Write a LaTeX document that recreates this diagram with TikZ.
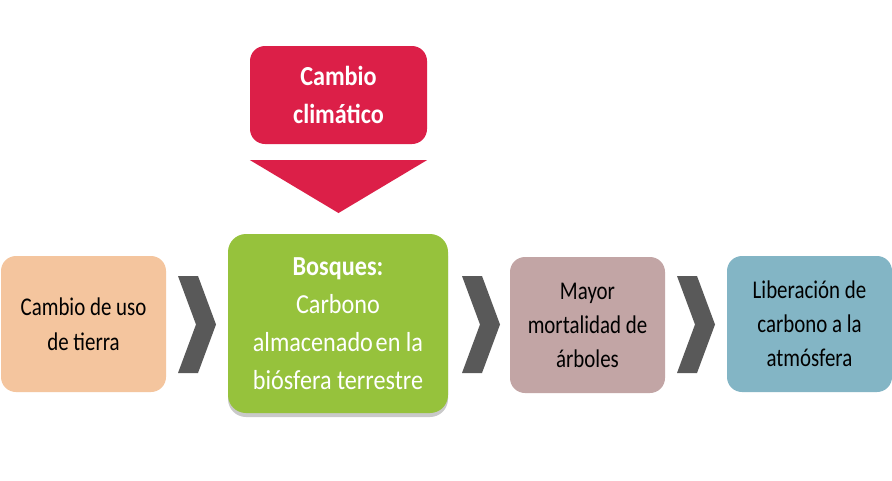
\documentclass[tikz,border=0pt]{standalone}
\usepackage{fontspec}
\setmainfont[FakeStretch=0.82]{Carlito}
\newfontfamily\bigf[FakeStretch=0.88]{Carlito}
\usetikzlibrary{shadows}
\definecolor{cred}{HTML}{DC1F48}
\definecolor{cgreen}{HTML}{96C23C}
\definecolor{corange}{HTML}{F4C59E}
\definecolor{cmauve}{HTML}{C2A5A5}
\definecolor{cblue}{HTML}{83B5C5}
\definecolor{cchev}{HTML}{595959}
\tikzset{
  box/.style={rounded corners=15pt, align=center, inner sep=0pt,
    font=\fontsize{25.5}{34}\selectfont},
  chev/.style={fill=cchev, draw=none},
}
\begin{document}
\begin{tikzpicture}[x=1pt,y=-1pt]
\useasboundingbox (0,0) rectangle (892,480);
\fill[white] (0,0) rectangle (892,480);
\node[box, fill=cred, text=white, minimum width=177pt, minimum height=98pt,
  font=\bigf\fontsize{27.5}{38}\selectfont\bfseries] (cc) at (338.5,95) {Cambio\\clim\'atico};
\node[box, fill=cgreen, text=white, minimum width=220pt, minimum height=179pt,
  rounded corners=18pt, font=\bigf\fontsize{27.5}{38}\selectfont,
  drop shadow={shadow xshift=0pt, shadow yshift=-4pt, opacity=0.35, fill=black!60}]
  (bos) at (338,323.5) {\textbf{Bosques:}\\Carbono\\almacenado\hspace{0.1em}en la\\bi\'osfera terrestre};
\node[box, fill=corange, text=black, minimum width=165pt, minimum height=136pt,
  font=\fontsize{25.5}{35}\selectfont]
  (uso) at (83.5,324) {Cambio de uso\\de tierra};
\node[box, fill=cmauve, text=black, minimum width=155pt, minimum height=136pt]
  (may) at (587.5,325) {Mayor\\mortalidad de\\\'arboles};
\node[box, fill=cblue, text=black, minimum width=165pt, minimum height=136pt]
  (lib) at (809.5,324) {Liberaci\'on de\\carbono a la\\atm\'osfera};
% arrow from climate change to forests
\coordinate (tl) at (cc.south west |- 0,160);
\coordinate (tr) at (cc.south east |- 0,160);
\coordinate (tp) at (cc.south |- 0,213);
\fill[cred] (tl) -- (tr) -- (tp) -- cycle;
% chevrons
\foreach \x/\nm in {178/c1,462/c2,677/c3}{
  \fill[chev] (\x,276) -- (\x+20,276) -- (\x+38,324.5) -- (\x+20,373) -- (\x,373) -- (\x+18,324.5) -- cycle;
}
\end{tikzpicture}
\end{document}
